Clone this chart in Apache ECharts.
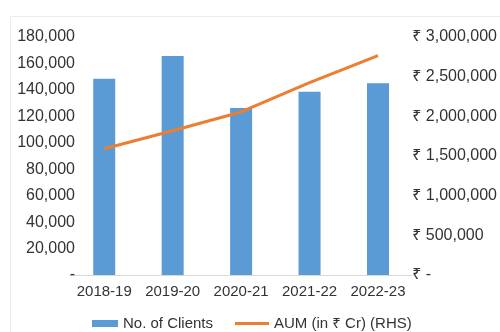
<!DOCTYPE html>
<html>
<head>
<meta charset="utf-8">
<script src="https://cdn.jsdelivr.net/npm/echarts@6/dist/echarts.min.js"></script>
<style>html,body{margin:0;padding:0;background:#fff;}#c{width:500px;height:332px;}</style>
</head>
<body>
<div id="c"></div>
<script>
var categories = ['2018-19', '2019-20', '2020-21', '2021-22', '2022-23'];
var clients = [148500, 165600, 126300, 138600, 145000];
var aum = [1592000, 1819000, 2055000, 2424000, 2764000];
var leftTicks = { min: 0, max: 180000, interval: 20000 };
var rightTicks = { min: 0, max: 3000000, interval: 500000 };

var FONT = '"Liberation Sans", Arial, "Noto Sans", "DejaVu Sans", sans-serif';
var TXT = '#333333';
function fmt(v) { return v.toString().replace(/\B(?=(\d{3})+(?!\d))/g, ','); }

var chart = echarts.init(document.getElementById('c'), null, { renderer: 'canvas' });
chart.setOption({
  animation: false,
  backgroundColor: '#ffffff',
  textStyle: { fontFamily: FONT },
  graphic: [{
    type: 'rect', left: 8, top: 14, z: -1,
    shape: { width: 600, height: 400 },
    style: { fill: 'none', stroke: '#ececec', lineWidth: 1 }
  }],
  grid: { left: 70, right: 85, top: 37, bottom: 57, containLabel: false },
  legend: [{
    data: [{ name: 'No. of Clients', icon: 'rect' }],
    left: 87, top: 311, itemWidth: 26, itemHeight: 7,
    textStyle: { fontSize: 15, color: TXT, fontFamily: FONT }
  }, {
    data: [{ name: 'AUM (in ₹ Cr) (RHS)', icon: 'rect' }],
    left: 230, top: 311, itemWidth: 34, itemHeight: 3,
    textStyle: { fontSize: 15, color: TXT, fontFamily: FONT }
  }],
  xAxis: {
    type: 'category', data: categories, boundaryGap: true,
    axisLine: { show: true, lineStyle: { color: '#d9d9d9', width: 1 } },
    axisTick: { show: false },
    axisLabel: { fontSize: 15, color: TXT, margin: 9, interval: 0, fontFamily: FONT }
  },
  yAxis: [{
    type: 'value', min: leftTicks.min, max: leftTicks.max, interval: leftTicks.interval,
    splitLine: { show: false }, axisLine: { show: false }, axisTick: { show: false },
    axisLabel: { fontSize: 16, color: TXT, margin: -5, fontFamily: FONT,
      formatter: function (v) { return v === 0 ? '-' : fmt(v); } }
  }, {
    type: 'value', min: rightTicks.min, max: rightTicks.max, interval: rightTicks.interval,
    position: 'right',
    splitLine: { show: false }, axisLine: { show: false }, axisTick: { show: false },
    axisLabel: { fontSize: 16, color: TXT, margin: 0, fontFamily: FONT,
      formatter: function (v) { return v === 0 ? '₹ -' : '₹ ' + fmt(v); } }
  }],
  series: [{
    name: 'No. of Clients', type: 'bar', data: clients, yAxisIndex: 0,
    barWidth: 22, itemStyle: { color: '#5B9BD5' }
  }, {
    name: 'AUM (in ₹ Cr) (RHS)', type: 'line', data: aum, yAxisIndex: 1,
    symbol: 'none', smooth: false,
    lineStyle: { color: '#ED7D31', width: 3 }, itemStyle: { color: '#ED7D31' }
  }]
});
</script>
</body>
</html>
